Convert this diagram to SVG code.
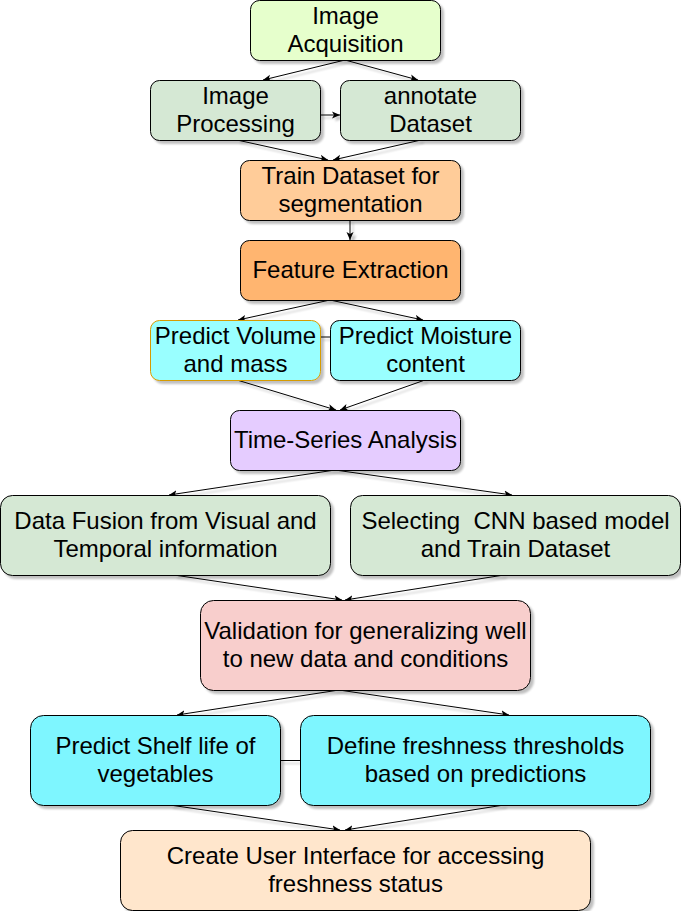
<svg xmlns="http://www.w3.org/2000/svg" width="681" height="911" viewBox="0 0 681 911">
<defs>
<filter id="sh" filterUnits="userSpaceOnUse" x="0" y="0" width="681" height="911">
<feGaussianBlur in="SourceAlpha" stdDeviation="1"/>
<feOffset dx="3" dy="3" result="o"/>
<feComponentTransfer><feFuncA type="linear" slope="0.25"/></feComponentTransfer>
<feMerge><feMergeNode/><feMergeNode in="SourceGraphic"/></feMerge>
</filter>
<marker id="arr" markerUnits="userSpaceOnUse" markerWidth="10" markerHeight="8" refX="8" refY="4" orient="auto">
<path d="M0,0.5 L8,4 L0,7.5 L2,4 z" fill="#000"/>
</marker>
<style>
.box rect{stroke:#000;stroke-width:1;filter:url(#sh)}
.box text{font-family:"Liberation Sans",Arial,sans-serif;font-size:24px;fill:#000;text-anchor:middle}
#connectors line{stroke:#000;stroke-width:1;fill:none;filter:url(#sh)}
#connectors line.a{marker-end:url(#arr)}
</style>
</defs>

<g id="connectors">
<line class="a" x1="345" y1="60" x2="263" y2="80"/>
<line class="a" x1="345" y1="60" x2="418" y2="80"/>
<line class="a" x1="320" y1="115" x2="340" y2="115"/>
<line class="a" x1="237" y1="140" x2="328" y2="160"/>
<line class="a" x1="421" y1="140" x2="333" y2="160"/>
<line class="a" x1="350" y1="220" x2="350" y2="240"/>
<line class="a" x1="330" y1="300" x2="238" y2="320"/>
<line class="a" x1="330" y1="300" x2="423" y2="320"/>
<line x1="320" y1="337" x2="330" y2="337"/>
<line class="a" x1="237" y1="380" x2="336" y2="410"/>
<line class="a" x1="425" y1="380" x2="340" y2="410"/>
<line class="a" x1="335" y1="470" x2="169" y2="495"/>
<line class="a" x1="335" y1="470" x2="512" y2="495"/>
<line class="a" x1="174" y1="575" x2="342" y2="600"/>
<line class="a" x1="504" y1="575" x2="345" y2="600"/>
<line class="a" x1="339" y1="690" x2="177" y2="715"/>
<line class="a" x1="339" y1="690" x2="509" y2="715"/>
<line x1="280" y1="760.5" x2="300" y2="760.5"/>
<line class="a" x1="170" y1="805" x2="340" y2="830"/>
<line class="a" x1="504" y1="805" x2="345" y2="830"/>
</g>

<g id="n1" class="box"><rect x="250.5" y="0.5" width="190" height="60" rx="9" fill="#e6ffcc"/><text x="345.5" y="24">Image</text><text x="345.5" y="52">Acquisition</text></g>
<g id="n2" class="box"><rect x="150.5" y="80.5" width="170" height="60" rx="9" fill="#d5e8d4"/><text x="235.5" y="104">Image</text><text x="235.5" y="132">Processing</text></g>
<g id="n3" class="box"><rect x="340.5" y="80.5" width="180" height="60" rx="9" fill="#d5e8d4"/><text x="430.5" y="104">annotate</text><text x="430.5" y="132">Dataset</text></g>
<g id="n4" class="box"><rect x="240.5" y="160.5" width="220" height="60" rx="9" fill="#ffcc99"/><text x="350.5" y="184">Train Dataset for</text><text x="350.5" y="212">segmentation</text></g>
<g id="n5" class="box"><rect x="240.5" y="240.5" width="220" height="60" rx="9" fill="#ffb570"/><text x="350.5" y="278">Feature Extraction</text></g>
<g id="n6" class="box"><rect x="150.5" y="320.5" width="170" height="60" rx="9" fill="#99ffff" style="stroke:#d79b00"/><text x="235.5" y="344">Predict Volume</text><text x="235.5" y="372">and mass</text></g>
<g id="n7" class="box"><rect x="330.5" y="320.5" width="190" height="60" rx="9" fill="#99ffff"/><text x="425.5" y="344">Predict Moisture</text><text x="425.5" y="372">content</text></g>
<g id="n8" class="box"><rect x="230.5" y="410.5" width="230" height="60" rx="9" fill="#e5ccff"/><text x="345.5" y="448">Time-Series Analysis</text></g>
<g id="n9" class="box"><rect x="0.5" y="495.5" width="330" height="80" rx="12" fill="#d5e8d4"/><text x="165.5" y="529">Data Fusion from Visual and</text><text x="165.5" y="557">Temporal information</text></g>
<g id="n10" class="box"><rect x="350.5" y="495.5" width="330" height="80" rx="12" fill="#d5e8d4"/><text x="515.5" y="529" style="white-space:pre">Selecting  CNN based model</text><text x="515.5" y="557">and Train Dataset</text></g>
<g id="n11" class="box"><rect x="200.5" y="600.5" width="330" height="90" rx="13" fill="#f8cecc"/><text x="365.5" y="639">Validation for generalizing well</text><text x="365.5" y="667">to new data and conditions</text></g>
<g id="n12" class="box"><rect x="30.5" y="715.5" width="250" height="90" rx="13" fill="#7ef6ff"/><text x="155.5" y="754">Predict Shelf life of</text><text x="155.5" y="782">vegetables</text></g>
<g id="n13" class="box"><rect x="300.5" y="715.5" width="350" height="90" rx="13" fill="#7ef6ff"/><text x="475.5" y="754">Define freshness thresholds</text><text x="475.5" y="782">based on predictions</text></g>
<g id="n14" class="box"><rect x="120.5" y="830.5" width="470" height="80" rx="12" fill="#ffe6cc"/><text x="355.5" y="864">Create User Interface for accessing</text><text x="355.5" y="892">freshness status</text></g>
</svg>
